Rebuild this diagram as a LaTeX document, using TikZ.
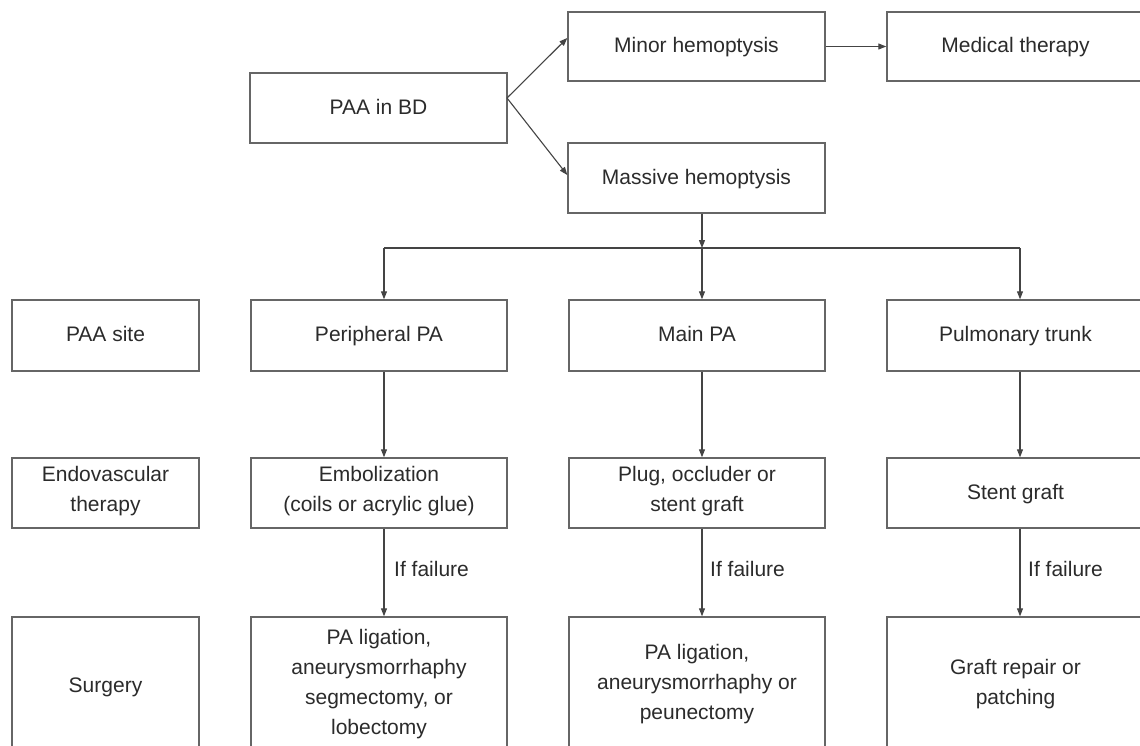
\documentclass[tikz,border=0pt]{standalone}
\usepackage{fontspec}
\setmainfont{Liberation Sans}
\usetikzlibrary{arrows.meta,calc}
\definecolor{boxline}{HTML}{666666}
\definecolor{conn}{HTML}{444444}
\definecolor{txt}{HTML}{2B2B2B}
\begin{document}
\begin{tikzpicture}[x=1pt,y=-1pt,
  box/.style={draw=boxline,line width=1.4pt,text=txt,align=center,
    minimum width=257pt,minimum height=70pt,inner sep=2pt,
    font=\fontsize{21}{30}\selectfont,
    execute at begin node={\strut},execute at end node={\strut}},
  conline/.style={draw=conn,line width=1.1pt},
  arr/.style={conline,-{Triangle[length=8pt,width=6pt]}},
  lab/.style={text=txt,font=\fontsize{21}{24}\selectfont,anchor=west,inner sep=0pt}]
\clip (0,0) rectangle (1140,745);
\fill[white] (0,0) rectangle (1140,745);
% top
\node[box] (paa) at (378.5,108) {PAA in BD};
\node[box,minimum height=69pt] (minor) at (696.5,46.5) {Minor hemoptysis};
\node[box,minimum height=69pt] (medical) at (1015.5,46.5) {Medical therapy};
\node[box] (massive) at (696.5,178) {Massive hemoptysis};
% row site
\node[box,minimum width=187pt,minimum height=71pt] (site) at (105.5,335.5) {PAA site};
\node[box,minimum width=256pt,minimum height=71pt] (periph) at (379,335.5) {Peripheral PA};
\node[box,minimum width=256pt,minimum height=71pt] (mainpa) at (697,335.5) {Main PA};
\node[box,minimum height=71pt] (trunk) at (1015.5,335.5) {Pulmonary trunk};
% row endovascular
\node[box,minimum width=187pt] (endo) at (105.5,493) {Endovascular\\therapy};
\node[box,minimum width=256pt] (emb) at (379,493) {Embolization\\(coils or acrylic glue)};
\node[box,minimum width=256pt] (plug) at (697,493) {Plug, occluder or\\stent graft};
\node[box] (stent) at (1015.5,493) {Stent graft};
% row surgery
\node[box,minimum width=187pt,minimum height=138pt] (surg) at (105.5,686) {Surgery};
\node[box,minimum width=256pt,minimum height=138pt] (lig1) at (379,686) {PA ligation,\\aneurysmorrhaphy\\segmectomy, or\\lobectomy};
\node[box,minimum width=256pt,minimum height=138pt] (lig2) at (697,686) {PA ligation,\\aneurysmorrhaphy or\\peunectomy};
\node[box,minimum height=138pt] (graft) at (1015.5,686) {Graft repair or\\patching};
% connectors
\coordinate (fan) at (507,98);
\draw[arr] (fan) -- ($(minor.west)+(0,-8.5)$);
\draw[arr] (fan) -- ($(massive.west)+(0,-3)$);
\draw[arr] (minor) -- (medical);
\coordinate (cA) at (384,248);
\coordinate (cB) at (702,248);
\coordinate (cC) at (1020,248);
\draw[arr] (massive.south -| cB) -- (cB);
\draw[conline] (cA) -- (cC);
\draw[arr] (cA) -- (periph.north -| cA);
\draw[arr] (cB) -- (mainpa.north -| cB);
\draw[arr] (cC) -- (trunk.north -| cC);
\draw[arr] (periph.south -| cA) -- (emb.north -| cA);
\draw[arr] (mainpa.south -| cB) -- (plug.north -| cB);
\draw[arr] (trunk.south -| cC) -- (stent.north -| cC);
\draw[arr] (emb.south -| cA) -- (lig1.north -| cA);
\draw[arr] (plug.south -| cB) -- (lig2.north -| cB);
\draw[arr] (stent.south -| cC) -- (graft.north -| cC);
\node[lab] (f1) at (394,569) {If failure};
\node[lab] (f2) at (710,569) {If failure};
\node[lab] (f3) at (1028,569) {If failure};
\end{tikzpicture}
\end{document}
